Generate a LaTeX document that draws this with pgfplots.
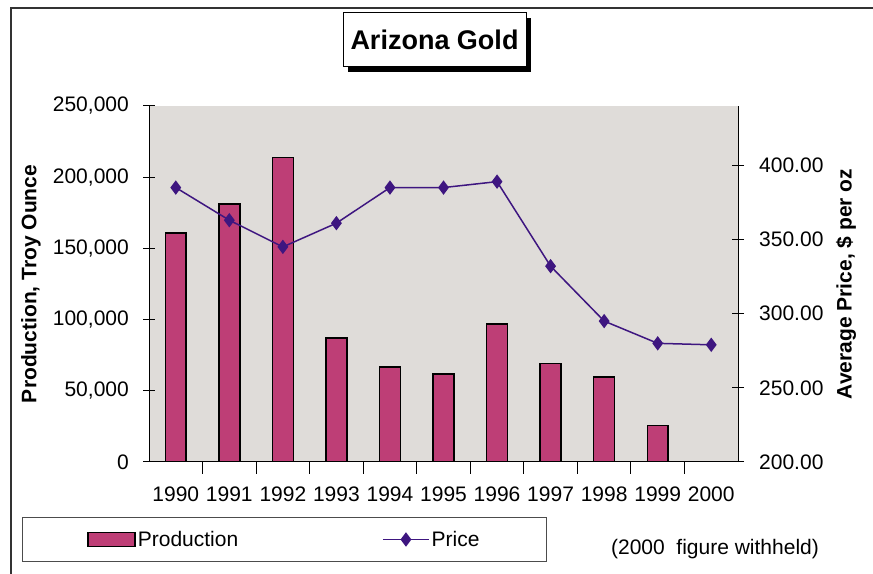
\documentclass[border=0pt]{standalone}
\usepackage{pgfplots}
\pgfplotsset{compat=1.18}
\usepackage{fontspec}
\setmainfont{Liberation Sans}
\definecolor{plotbg}{RGB}{223,220,217}
\definecolor{barcol}{RGB}{190,62,118}
\definecolor{linecol}{RGB}{62,22,128}
\newcommand{\tfont}{\fontsize{21bp}{25bp}\selectfont}
\pgfplotsset{
  barlegend/.style={legend image code/.code={\draw[##1] (0bp,-7bp) rectangle (47bp,7bp);}},
  linelegend/.style={legend image code/.code={\draw[mark repeat=2, mark phase=2, ##1] plot coordinates {(0bp,0bp) (23bp,0bp) (46bp,0bp)};}},
}
\begin{document}
\begin{tikzpicture}[x=1bp,y=1bp]
\path[use as bounding box] (0,0) rectangle (873,574);
\draw[line width=1.5bp, black!80] (11,0) -- (11,566) -- (873,566);
% title with shadow
\fill[black] (348,502) rectangle (531,556);
\node[draw=black, line width=1bp, fill=white, minimum width=183bp, minimum height=54bp, inner sep=0pt,
      font=\bfseries\fontsize{27bp}{30bp}\selectfont] at (434.5,534) {Arizona Gold};
\node[font=\tfont] at (715,25) {(2000\ \ figure withheld)};

\begin{axis}[
  at={(149bp,112bp)}, anchor=south west,
  width=589bp, height=356bp, scale only axis,
  xmin=-0.5, xmax=10.5, ymin=0, ymax=250000,
  axis background/.style={fill=plotbg},
  axis x line*=bottom, axis y line*=left,
  axis line style={line width=1bp, black},
  xtick={0,1,2,3,4,5,6,7,8,9,10},
  xticklabels={1990,1991,1992,1993,1994,1995,1996,1997,1998,1999,2000},
  major x tick style={draw=none},
  minor xtick={0.5,1.5,2.5,3.5,4.5,5.5,6.5,7.5,8.5,9.5},
  tick align=center, major tick length=12bp, minor tick length=12bp,
  tick style={line width=1bp, black},
  ytick={0,50000,100000,150000,200000,250000},
  scaled y ticks=false,
  /pgf/number format/assume math mode=true,
  tick label style={font=\tfont},
  yticklabel style={inner xsep=14bp, /pgf/number format/.cd, fixed, 1000 sep={,}},
  xticklabel style={yshift=-9bp},
  ylabel={\textbf{Production, Troy Ounce}},
  ylabel style={font=\tfont, at={(axis description cs:-0.2003,0.5)}, anchor=center, rotate=0},
  ybar, bar width=0.39, bar shift=0pt,
]
\addplot[fill=barcol, draw=black, line width=1.5bp] coordinates {
  (0,160700) (1,181100) (2,213900) (3,87150) (4,66770) (5,61850)
  (6,96780) (7,69160) (8,59530) (9,25790)};
\end{axis}

\begin{axis}[
  at={(149bp,112bp)}, anchor=south west,
  width=589bp, height=356bp, scale only axis,
  xmin=-0.5, xmax=10.5, ymin=200, ymax=440,
  axis x line=none, axis y line*=right,
  axis line style={line width=1bp, black},
  tick align=center, major tick length=12bp,
  tick style={line width=1bp, black},
  ytick={200,250,300,350,400},
  /pgf/number format/assume math mode=true,
  tick label style={font=\tfont},
  yticklabel style={inner xsep=15bp, /pgf/number format/.cd, fixed, fixed zerofill, precision=2},
  ylabel={\textbf{Average Price, \$ per oz}},
  ylabel style={font=\tfont, at={(axis description cs:1.1834,0.5)}, anchor=center, rotate=0},
  legend columns=2,
  legend style={at={(axis description cs:0.230,-0.2177)}, anchor=center,
     draw=black!70, line width=1bp, font=\tfont, inner xsep=65bp, inner ysep=12bp,
     /tikz/every even column/.append style={column sep=142bp}},
]
\addlegendimage{fill=barcol, draw=black, line width=1.5bp, barlegend}
\addlegendentry{Production}
\addplot[color=linecol, line width=1.5bp, mark=diamond*, mark size=6bp,
   mark options={fill=linecol, draw=linecol}, linelegend]
 coordinates {
  (0,385) (1,363) (2,345) (3,361) (4,385) (5,385) (6,389) (7,332) (8,295) (9,280) (10,279)};
\addlegendentry{Price}
\end{axis}
\end{tikzpicture}
\end{document}
